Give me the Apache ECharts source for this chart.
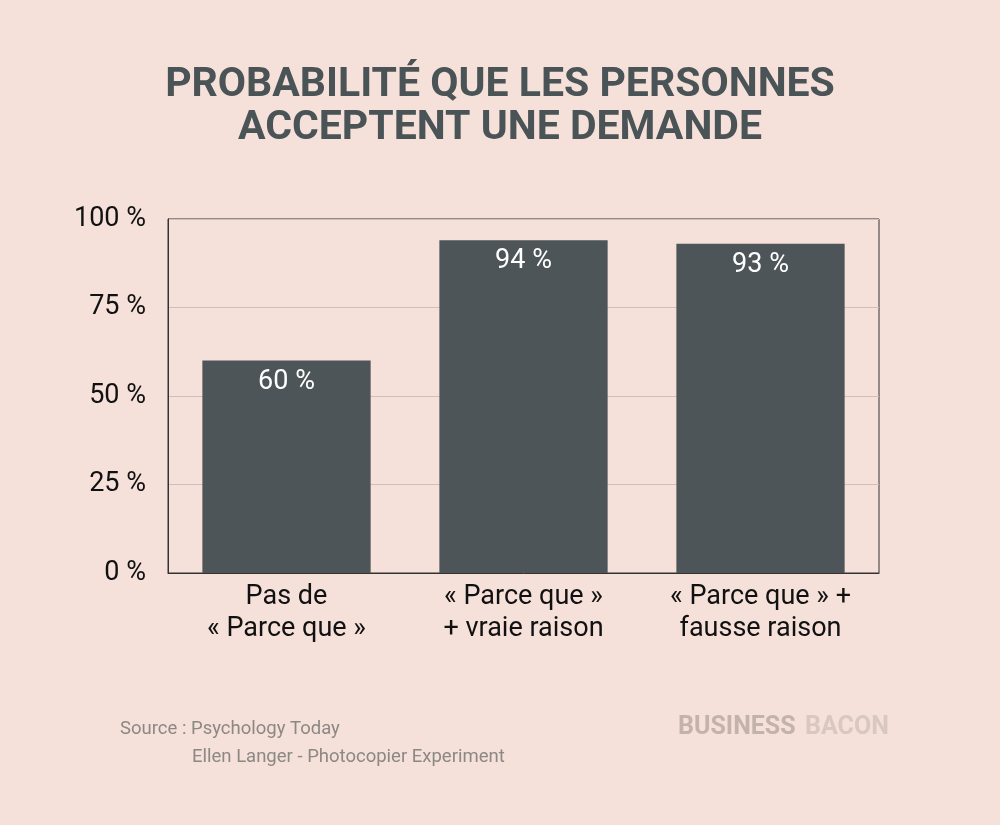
<!DOCTYPE html>
<html><head><meta charset="utf-8">
<script src="https://cdn.jsdelivr.net/npm/echarts@6/dist/echarts.min.js"></script>
<style>html,body{margin:0;padding:0;background:#f5e0da;}#c{width:1000px;height:825px;}</style>
</head><body><div id="c"></div>
<script>
const categories = ['Pas de\n« Parce que »', '« Parce que »\n+ vraie raison', '« Parce que » +\nfausse raison'];
const values = [60, 94, 93];
const yTicks = [0, 25, 50, 75, 100];
const titleText = 'PROBABILITÉ QUE LES PERSONNES\nACCEPTENT UNE DEMANDE';
const sourceLines = ['Source : Psychology Today', 'Ellen Langer - Photocopier Experiment'];

const chart = echarts.init(document.getElementById('c'));
chart.setOption({
  backgroundColor: '#f5e0da',
  animation: false,
  title: {
    text: titleText,
    left: 'center', top: 59,
    textStyle: { fontFamily: 'Roboto', fontWeight: 'bold', fontSize: 41, lineHeight: 43, color: '#4a5356' }
  },
  grid: { left: 168, right: 121, top: 219, bottom: 252, show: true, borderColor: '#333', borderWidth: 1 },
  xAxis: {
    type: 'category', data: categories,
    axisLine: { show: true, lineStyle: { color: '#333' } },
    axisTick: { show: false },
    axisLabel: { fontFamily: 'Roboto', fontSize: 27, lineHeight: 32, color: '#111', margin: 8 }
  },
  yAxis: {
    type: 'value', min: yTicks[0], max: yTicks[yTicks.length - 1], interval: 25,
    axisLine: { show: true, lineStyle: { color: '#333' } },
    axisTick: { show: false },
    splitLine: { lineStyle: { color: '#cdbfb9', width: 1 } },
    axisLabel: { fontFamily: 'Roboto', fontSize: 27, color: '#111', margin: 22, formatter: '{value} %' }
  },
  series: [{
    type: 'bar', data: values, barWidth: '71%',
    itemStyle: { color: '#4d5558' },
    label: { show: true, position: 'insideTop', distance: 8, formatter: '{c} %', fontFamily: 'Roboto', fontSize: 27, color: '#fff' }
  }],
  graphic: [
    { type: 'text', left: 120, top: 720, style: { text: sourceLines[0], fontFamily: 'Roboto', fontSize: 18.5, fill: '#8c8884' } },
    { type: 'text', left: 192, top: 748, style: { text: sourceLines[1], fontFamily: 'Roboto', fontSize: 18.5, fill: '#8c8884' } },
    { type: 'text', left: 678, top: 715, style: { text: 'BUSINESS', fontFamily: 'Roboto', fontWeight: 'bold', fontSize: 25, fill: '#c3b3ab' } },
    { type: 'text', left: 805, top: 715, style: { text: 'BACON', fontFamily: 'Roboto', fontWeight: 'bold', fontSize: 25, fill: '#d8c8c0' } }
  ]
});
</script></body></html>
